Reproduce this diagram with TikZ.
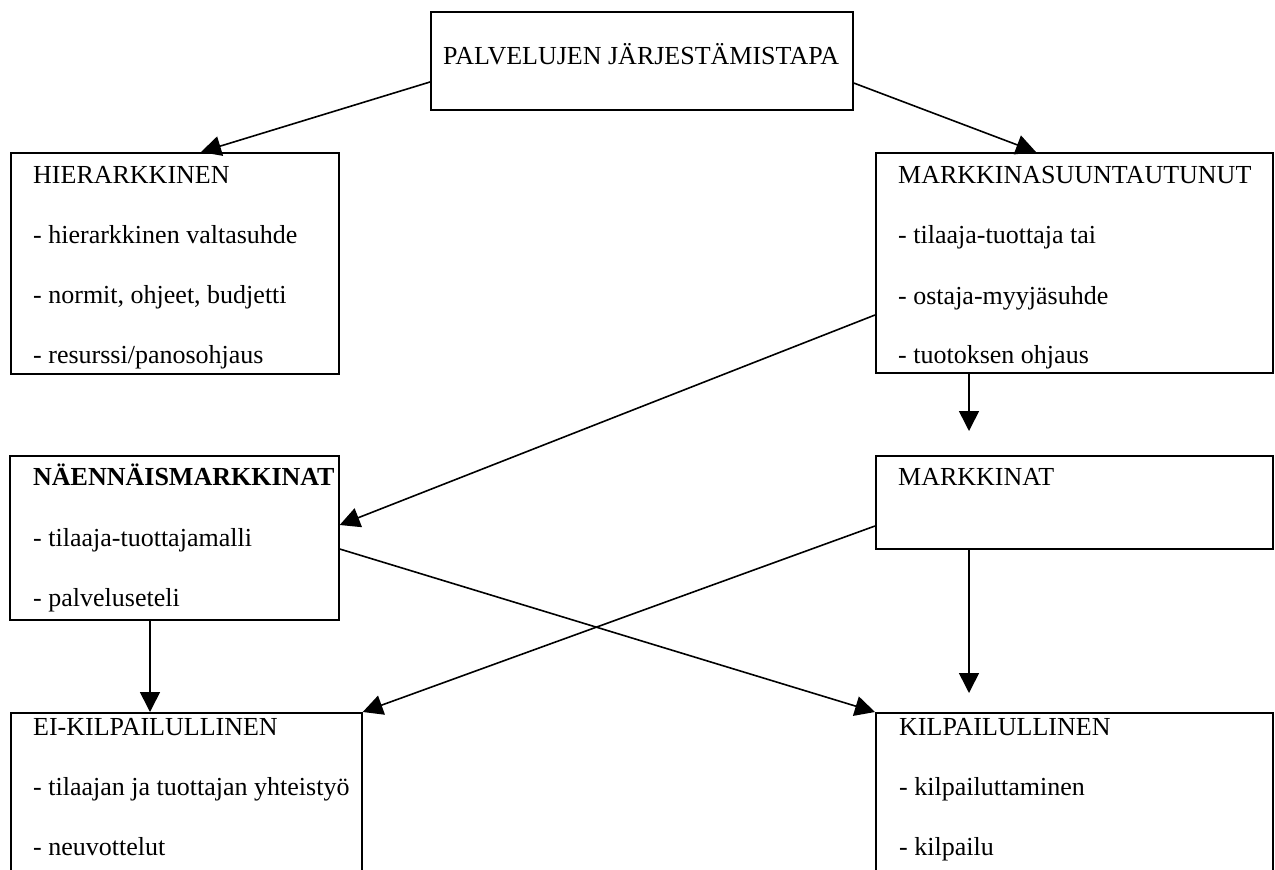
\documentclass[tikz,border=0pt]{standalone}
\usepackage{fontspec}
\setmainfont{Liberation Serif}
\usetikzlibrary{arrows.meta}
\begin{document}
\begin{tikzpicture}[x=1pt,y=-1pt,
  box/.style={draw, line width=1.7pt, rectangle, inner sep=0pt, anchor=north west},
  txt/.style={inner sep=0pt, anchor=base west, font=\fontsize{26}{30}\selectfont},
  arr/.style={line width=1.6pt, -{Triangle[length=20pt,width=20pt]}}]
\useasboundingbox (0,0) rectangle (1275,870);
% boxes
\node[box, minimum width=422pt, minimum height=98pt] (top) at (430,11) {};
\node[box, minimum width=328pt, minimum height=221pt] (hier) at (10,152) {};
\node[box, minimum width=397pt, minimum height=220pt] (mark) at (875,152) {};
\node[box, minimum width=329pt, minimum height=164pt] (naen) at (9,455) {};
\node[box, minimum width=397pt, minimum height=93pt] (mkt) at (875,455) {};
\node[box, minimum width=351pt, minimum height=200pt] (eik) at (10,712) {};
\node[box, minimum width=397pt, minimum height=200pt] (kilp) at (875,712) {};
% texts
\node[txt] (t0) at (443,64) {PALVELUJEN JÄRJESTÄMISTAPA};
\node[txt] (h0) at (33,183) {HIERARKKINEN};
\node[txt] (h1) at (33,243) {- hierarkkinen valtasuhde};
\node[txt] (h2) at (33,303) {- normit, ohjeet, budjetti};
\node[txt] (h3) at (33,363) {- resurssi/panosohjaus};
\node[txt] (m0) at (898,183) {MARKKINASUUNTAUTUNUT};
\node[txt] (m1) at (898,243) {- tilaaja-tuottaja tai};
\node[txt] (m2) at (898,304) {- ostaja-myyjäsuhde};
\node[txt] (m3) at (898,363) {- tuotoksen ohjaus};
\node[txt] (n0) at (33,485) {\bfseries NÄENNÄISMARKKINAT};
\node[txt] (n1) at (33,546) {- tilaaja-tuottajamalli};
\node[txt] (n2) at (33,606) {- palveluseteli};
\node[txt] (k0) at (898,485) {MARKKINAT};
\node[txt] (e0) at (33,735) {EI-KILPAILULLINEN};
\node[txt] (e1) at (33,795) {- tilaajan ja tuottajan yhteistyö};
\node[txt] (e2) at (33,855) {- neuvottelut};
\node[txt] (c0) at (899,735) {KILPAILULLINEN};
\node[txt] (c1) at (899,795) {- kilpailuttaminen};
\node[txt] (c2) at (899,855) {- kilpailu};
% free ends
\coordinate (mend) at (969,431);
\coordinate (kend) at (969,693);
% connectors
\draw[arr] (top.west |- 0,82) -- (hier.north -| 201,0);
\draw[arr] (top.east |- 0,83) -- (mark.north -| 1036,0);
\draw[arr] (mark.west |- 0,315) -- (naen.east |- 0,525);
\draw[arr] (mark.south -| mend) -- (mend);
\draw[arr] (naen.east |- 0,549) -- (kilp.north west);
\draw[arr] (mkt.west |- 0,526) -- (eik.north east);
\draw[arr] (naen.south -| 150,0) -- (eik.north -| 150,0);
\draw[arr] (mkt.south -| kend) -- (kend);
\end{tikzpicture}
\end{document}
